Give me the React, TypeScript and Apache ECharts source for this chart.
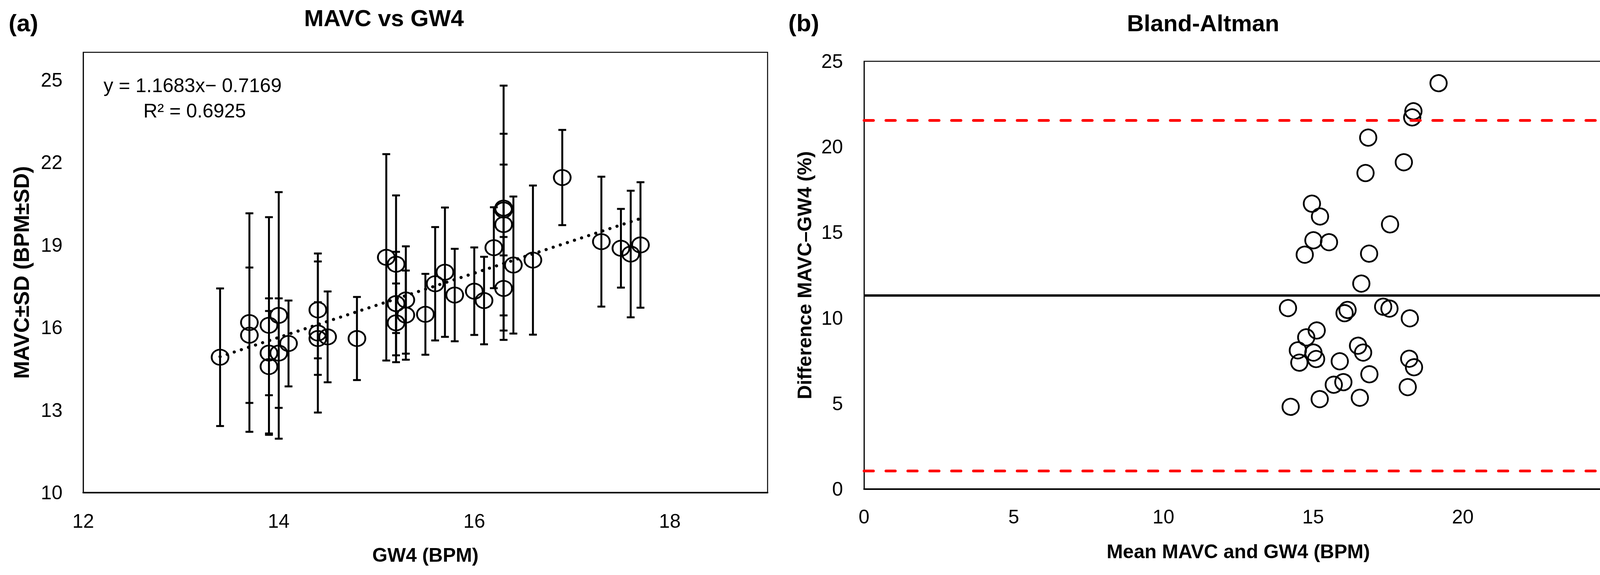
import React, { useEffect, useRef } from "react";
import * as echarts from "echarts";

// ---- Panel (a): MAVC vs GW4 ----
const GW4 = [
  13.4, 13.7, 13.7, 13.9, 13.9, 13.9, 14.0, 14.0, 14.1, 14.4, 14.4, 14.4, 14.5,
  14.8, 15.1, 15.2, 15.2, 15.2, 15.3, 15.3, 15.5, 15.6, 15.7, 15.8, 16.0, 16.1,
  16.2, 16.3, 16.3, 16.3, 16.3, 16.4, 16.6, 16.9, 17.3, 17.5, 17.6, 17.7,
];
const MAVC = [
  14.92, 16.18, 15.72, 16.08, 15.07, 14.58, 16.44, 15.07, 15.42, 16.64, 15.8,
  15.6, 15.66, 15.6, 18.55, 18.3, 16.87, 16.17, 17.0, 16.45, 16.48, 17.59,
  18.01, 17.18, 17.32, 16.98, 18.9, 20.34, 20.27, 19.74, 17.42, 18.27, 18.45,
  21.45, 19.12, 18.88, 18.67, 19.0,
];
const MAVC_SD = [
  2.5, 3.97, 2.46, 3.93, 1.53, 2.48, 4.48, 1.99, 1.56, 1.76, 2.89, 1.32, 1.65,
  1.51, 3.75, 2.5, 1.88, 1.43, 1.95, 1.62, 1.47, 2.06, 2.35, 1.68, 1.59, 1.59,
  1.47, 4.45, 1.65, 3.3, 1.87, 2.49, 2.71, 1.73, 2.36, 1.43, 2.3, 2.28,
];
const TREND_X = [13.4, 17.7];
const TREND_Y = [14.94, 19.96];
const A_X_TICKS = { min: 12, max: 19, interval: 2 };
const A_Y_TICKS = { min: 10, max: 26, interval: 3 };

// ---- Panel (b): Bland-Altman ----
const BA_MEAN = [
  19.19, 18.35, 18.31, 16.84, 18.03, 16.75, 14.96, 15.23, 17.57, 15.01, 15.53,
  16.87, 14.72, 16.61, 14.16, 16.15, 16.05, 17.34, 17.55, 18.23, 15.12, 14.77,
  16.5, 14.49, 15.01, 16.67, 15.1, 14.54, 15.89, 18.21, 18.37, 16.88, 16.01,
  15.69, 18.16, 16.56, 15.22, 14.25,
];
const BA_DIFF = [
  23.72, 22.08, 21.72, 20.54, 19.1, 18.47, 16.68, 15.93, 15.47, 14.54, 14.43,
  13.76, 13.7, 12.01, 10.58, 10.47, 10.28, 10.66, 10.55, 9.98, 9.27, 8.87, 8.38,
  8.11, 7.98, 7.98, 7.6, 7.39, 7.47, 7.62, 7.12, 6.71, 6.25, 6.1, 5.96, 5.34,
  5.26, 4.81,
];
const BA_BIAS = [11.31];
const BA_LOA = [21.56, 1.07];
const B_X_TICKS = { min: 0, max: 25, interval: 5 };
const B_Y_TICKS = { min: 0, max: 25, interval: 5 };

const FONT = '"Liberation Sans", Arial, sans-serif';

export default function App() {
  const ref = useRef<HTMLDivElement>(null);

  useEffect(() => {
    document.body.style.margin = "0";
    document.body.style.overflow = "hidden";
    if (!ref.current) return;
    const chart = echarts.init(ref.current, undefined, { renderer: "svg" });

    const scatterA = GW4.map((x, i) => [x, MAVC[i]]);
    const barsA = GW4.map((x, i) => [x, MAVC[i] - MAVC_SD[i], MAVC[i] + MAVC_SD[i]]);
    const trend = TREND_X.map((x, i) => [x, TREND_Y[i]]);
    const scatterB = BA_MEAN.map((x, i) => [x, BA_DIFF[i]]);

    const axisLabel = (margin: number) => ({
      fontSize: 50,
      fontFamily: FONT,
      color: "#000",
      margin,
      showMaxLabel: false,
    });

    const txt = (
      text: string,
      x: number,
      y: number,
      size: number,
      bold: boolean,
      align = "center",
      rotation = 0
    ) => ({
      type: "text",
      x,
      y,
      rotation,
      silent: true,
      style: {
        text,
        fontSize: size,
        fontWeight: bold ? "bold" : "normal",
        fontFamily: FONT,
        fill: "#000",
        align,
        verticalAlign: "middle",
      },
    });

    const option: any = {
      animation: false,
      backgroundColor: "#fff",
      grid: [
        {
          left: 213,
          top: 134,
          width: 1752,
          height: 1128,
          show: true,
          borderColor: "#000",
          borderWidth: 2.5,
          backgroundColor: "transparent",
        },
        {
          left: 2212,
          top: 157,
          width: 1916,
          height: 1096,
          show: true,
          borderColor: "#000",
          borderWidth: 2.5,
          backgroundColor: "transparent",
        },
      ],
      xAxis: [
        {
          type: "value",
          gridIndex: 0,
          ...A_X_TICKS,
          axisLine: { show: true, onZero: false, lineStyle: { color: "#000", width: 4 } },
          axisTick: { show: false },
          splitLine: { show: false },
          axisLabel: axisLabel(48),
        },
        {
          type: "value",
          gridIndex: 1,
          ...B_X_TICKS,
          axisLine: { show: true, onZero: false, lineStyle: { color: "#000", width: 4 } },
          axisTick: { show: false },
          splitLine: { show: false },
          axisLabel: { ...axisLabel(46), showMaxLabel: true },
        },
      ],
      yAxis: [
        {
          type: "value",
          gridIndex: 0,
          ...A_Y_TICKS,
          axisLine: { show: true, onZero: false, lineStyle: { color: "#000", width: 2.5 } },
          axisTick: { show: false },
          splitLine: { show: false },
          axisLabel: axisLabel(53),
        },
        {
          type: "value",
          gridIndex: 1,
          ...B_Y_TICKS,
          axisLine: { show: true, onZero: false, lineStyle: { color: "#000", width: 2.5 } },
          axisTick: { show: false },
          splitLine: { show: false },
          axisLabel: { ...axisLabel(54), showMaxLabel: true },
        },
      ],
      series: [
        {
          type: "custom",
          xAxisIndex: 0,
          yAxisIndex: 0,
          data: barsA,
          encode: { x: 0, y: [1, 2] },
          silent: true,
          z: 2,
          renderItem: (_params: any, api: any) => {
            const x = api.value(0);
            const lo = api.coord([x, api.value(1)]);
            const hi = api.coord([x, api.value(2)]);
            const hw = 10;
            const st = { stroke: "#000", lineWidth: 5 };
            return {
              type: "group",
              children: [
                { type: "line", shape: { x1: hi[0], y1: hi[1], x2: lo[0], y2: lo[1] }, style: st },
                { type: "line", shape: { x1: hi[0] - hw, y1: hi[1], x2: hi[0] + hw, y2: hi[1] }, style: st },
                { type: "line", shape: { x1: lo[0] - hw, y1: lo[1], x2: lo[0] + hw, y2: lo[1] }, style: st },
              ],
            };
          },
        },
        {
          type: "line",
          xAxisIndex: 0,
          yAxisIndex: 0,
          data: trend,
          symbol: "none",
          silent: true,
          z: 3,
          lineStyle: { color: "#000", width: 8, type: [0.1, 19], cap: "round" },
        },
        {
          type: "scatter",
          xAxisIndex: 0,
          yAxisIndex: 0,
          data: scatterA,
          symbol: "circle",
          symbolSize: [43, 39],
          silent: true,
          z: 4,
          itemStyle: { color: "rgba(0,0,0,0)", borderColor: "#000", borderWidth: 4.5, opacity: 1 },
        },
        {
          type: "scatter",
          xAxisIndex: 1,
          yAxisIndex: 1,
          data: scatterB,
          symbol: "circle",
          symbolSize: 42,
          silent: true,
          z: 4,
          itemStyle: { color: "rgba(0,0,0,0)", borderColor: "#000", borderWidth: 4.5, opacity: 1 },
          markLine: {
            silent: true,
            symbol: "none",
            label: { show: false },
            animation: false,
            data: [
              { yAxis: BA_BIAS[0], lineStyle: { color: "#000", width: 6, type: "solid" } },
              ...BA_LOA.map((v) => ({
                yAxis: v,
                lineStyle: { color: "#ff0000", width: 7, type: [24, 32], cap: "round" },
              })),
            ],
          },
        },
      ],
      graphic: [
        txt("(a)", 22, 58, 62, true, "left"),
        txt("MAVC vs GW4", 983, 46, 60, true),
        txt("(b)", 2018, 58, 62, true, "left"),
        txt("Bland-Altman", 3080, 59, 60, true),
        txt("y = 1.1683x\u2212 0.7169", 265, 219, 50, false, "left"),
        txt("R\u00b2 = 0.6925", 367, 284, 50, false, "left"),
        txt("MAVC\u00b1SD (BPM\u00b1SD)", 55, 698, 55, true, "center", Math.PI / 2),
        txt("GW4 (BPM)", 1089, 1422, 50, true),
        txt("Difference MAVC\u2013GW4 (%)", 2060, 705, 50, true, "center", Math.PI / 2),
        txt("Mean MAVC and GW4 (BPM)", 3170, 1413, 50, true),
      ],
    };

    chart.setOption(option);
    return () => chart.dispose();
  }, []);

  return <div ref={ref} style={{ width: 4163, height: 1473, background: "#fff" }} />;
}
